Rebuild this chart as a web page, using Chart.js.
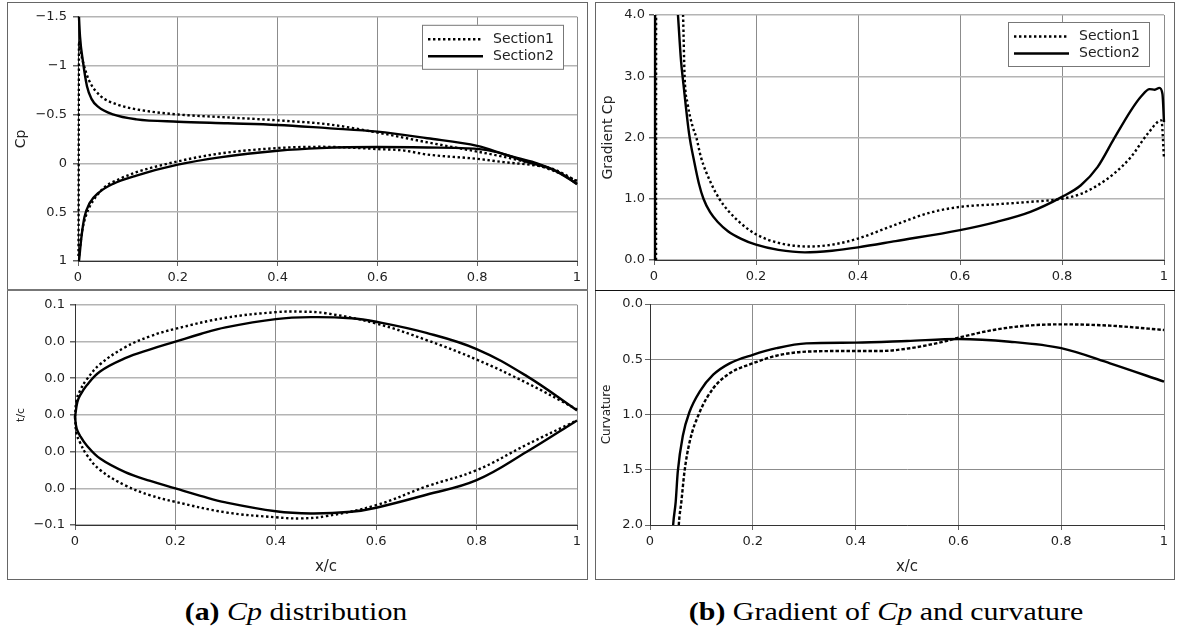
<!DOCTYPE html>
<html>
<head>
<meta charset="utf-8">
<script src="https://cdn.jsdelivr.net/npm/chart.js@4.4.0/dist/chart.umd.min.js"></script>
<style>
  body { margin: 0; width: 1177px; height: 630px; background: #fff; position: relative; overflow: hidden; }
  .frame { position: absolute; box-sizing: border-box; border: 1px solid #666; }
  .divider { position: absolute; height: 0; }
  canvas { position: absolute; }
  .caption {
    position: absolute; font-family: "Liberation Serif", serif; font-size: 26px;
    line-height: 1; white-space: nowrap; transform: translateX(-50%) scaleX(1.15); color: #000;
  }
</style>
</head>
<body>
<div class="frame" style="left:7px;top:2px;width:581px;height:578px"></div>
<div class="divider" style="left:7px;top:289px;width:581px;border-top:2px solid #777"></div>
<div class="frame" style="left:595px;top:2px;width:580px;height:578px"></div>
<div class="divider" style="left:595px;top:290px;width:580px;border-top:1px solid #111"></div>

<canvas id="cpChart" width="578" height="286" style="left:8px;top:3px"></canvas>
<canvas id="tcChart" width="578" height="285" style="left:8px;top:292px"></canvas>
<canvas id="gradChart" width="577" height="286" style="left:596px;top:3px"></canvas>
<canvas id="curvChart" width="577" height="285" style="left:596px;top:292px"></canvas>

<div class="caption" style="left:296px;top:599px"><b>(a)</b> <i>Cp</i> distribution</div>
<div class="caption" style="left:886px;top:599px"><b>(b)</b> Gradient of <i>Cp</i> and curvature</div>

<script>
// ---- tick labels (bottom to top) ----
const xTickLabels = ["0", "0.2", "0.4", "0.6", "0.8", "1"];
const cpTickLabels = ["−1.5", "−1", "−0.5", "0", "0.5", "1"];
const tcTickLabels = ["−0.1", "0.0", "0.0", "0.0", "0.0", "0.0", "0.1"];
const gradTickLabels = ["0.0", "1.0", "2.0", "3.0", "4.0"];
const curvTickLabels = ["0.0", "0.5", "1.0", "1.5", "2.0"];

// ---- Cp distribution [x/c, Cp] ----
const cpSection1Upper = [[0.001, 0.95], [0.002, -1.25], [0.005, -1.15], [0.012, -1.0], [0.022, -0.85],
  [0.045, -0.69], [0.08, -0.6], [0.12, -0.55], [0.2, -0.5], [0.3, -0.47], [0.4, -0.44], [0.5, -0.4],
  [0.6, -0.315], [0.7, -0.215], [0.8, -0.12], [0.85, -0.07], [0.9, -0.01], [0.95, 0.07], [1.0, 0.18]];
const cpSection1Lower = [[0.002, 0.95], [0.008, 0.7], [0.015, 0.55], [0.023, 0.447], [0.05, 0.26],
  [0.084, 0.159], [0.117, 0.091], [0.2, -0.02], [0.284, -0.1], [0.4, -0.156], [0.485, -0.169],
  [0.55, -0.16], [0.6, -0.146], [0.65, -0.133], [0.7, -0.09], [0.8, -0.046], [0.853, -0.012],
  [0.92, 0.024], [0.953, 0.06], [1.0, 0.183]];
const cpSection2Upper = [[0.001, -1.6], [0.004, -1.3], [0.01, -1.04], [0.018, -0.79], [0.027, -0.66],
  [0.04, -0.58], [0.07, -0.5], [0.117, -0.45], [0.2, -0.426], [0.3, -0.41], [0.4, -0.393],
  [0.5, -0.36], [0.6, -0.325], [0.7, -0.257], [0.8, -0.179], [0.85, -0.1], [0.9, -0.015],
  [0.95, 0.06], [0.975, 0.125], [1.0, 0.215]];
const cpSection2Lower = [[0.002, 1.0], [0.007, 0.75], [0.013, 0.55], [0.023, 0.41], [0.043, 0.294],
  [0.07, 0.21], [0.117, 0.125], [0.2, 0.014], [0.284, -0.061], [0.4, -0.129], [0.485, -0.156],
  [0.6, -0.167], [0.7, -0.162], [0.78, -0.153], [0.82, -0.135], [0.85, -0.1], [0.88, -0.055],
  [0.92, 0.0], [0.953, 0.068], [1.0, 0.21]];

// ---- thickness distribution [x/c, t/c] ----
const tcSection1Upper = [[0, -0.002], [0.003, 0.013], [0.01, 0.022], [0.023, 0.032], [0.05, 0.046],
  [0.1, 0.0615], [0.15, 0.0715], [0.2, 0.0782], [0.3, 0.0882], [0.4, 0.0933], [0.45, 0.0938],
  [0.5, 0.0923], [0.6, 0.083], [0.7, 0.068], [0.8, 0.0503], [0.9, 0.029], [1.0, 0.005]];
const tcSection1Lower = [[0, -0.002], [0.003, -0.017], [0.01, -0.025], [0.023, -0.036], [0.05, -0.05],
  [0.1, -0.064], [0.15, -0.073], [0.2, -0.079], [0.3, -0.0885], [0.4, -0.093], [0.45, -0.094],
  [0.5, -0.092], [0.6, -0.082], [0.7, -0.065], [0.8, -0.0502], [0.9, -0.027], [1.0, -0.005]];
const tcSection2Upper = [[0, -0.002], [0.0046, 0.0116], [0.01, 0.0176], [0.023, 0.0267], [0.05, 0.0395],
  [0.1, 0.0515], [0.15, 0.0595], [0.2, 0.0665], [0.25, 0.0735], [0.3, 0.0795], [0.4, 0.087],
  [0.47, 0.0888], [0.55, 0.0878], [0.6, 0.0846], [0.7, 0.0745], [0.8, 0.0598], [0.9, 0.0352], [1.0, 0.0041]];
const tcSection2Lower = [[0, -0.002], [0.0033, -0.0125], [0.01, -0.019], [0.023, -0.0276], [0.05, -0.0397],
  [0.1, -0.052], [0.15, -0.06], [0.2, -0.0668], [0.25, -0.0735], [0.3, -0.0795], [0.4, -0.0875],
  [0.47, -0.0895], [0.55, -0.088], [0.6, -0.0843], [0.7, -0.0725], [0.8, -0.0593], [0.9, -0.0335], [1.0, -0.005]];

// ---- gradient of Cp [x/c, dCp] ----
const gradSection1 = [[0.004, 0], [0.005, 30], [0.03, 10], [0.05, 5.5], [0.057, 4.0], [0.06, 3.0],
  [0.066, 2.55], [0.076, 2.17], [0.083, 2.0], [0.092, 1.68], [0.112, 1.25], [0.128, 1.0], [0.145, 0.81],
  [0.17, 0.6], [0.2, 0.42], [0.244, 0.28], [0.303, 0.22], [0.349, 0.25], [0.4, 0.35], [0.465, 0.55],
  [0.54, 0.77], [0.6, 0.867], [0.672, 0.91], [0.738, 0.95], [0.8, 1.0], [0.837, 1.08], [0.87, 1.22],
  [0.902, 1.41], [0.935, 1.68], [0.968, 2.06], [0.995, 2.28], [1.0, 1.66]];
const gradSection2 = [[0.002, 0], [0.003, 30], [0.02, 9], [0.035, 5.5], [0.047, 4.0], [0.053, 3.25],
  [0.058, 2.85], [0.069, 2.05], [0.079, 1.6], [0.088, 1.25], [0.097, 1.0], [0.11, 0.78], [0.125, 0.62],
  [0.145, 0.47], [0.17, 0.35], [0.2, 0.25], [0.244, 0.165], [0.296, 0.125], [0.349, 0.152],
  [0.4, 0.206], [0.474, 0.309], [0.6, 0.488], [0.672, 0.623], [0.738, 0.786], [0.8, 1.03],
  [0.837, 1.22], [0.87, 1.52], [0.902, 1.98], [0.935, 2.44], [0.955, 2.67], [0.972, 2.79],
  [0.982, 2.78], [0.991, 2.81], [0.997, 2.71], [1.0, 2.25]];

// ---- curvature [x/c, k] ----
const curvSection1 = [[0.05, 2.6], [0.056, 2.0], [0.061, 1.79], [0.067, 1.52], [0.077, 1.25],
  [0.097, 0.975], [0.123, 0.763], [0.155, 0.627], [0.2, 0.537], [0.246, 0.468], [0.304, 0.431],
  [0.4, 0.425], [0.45, 0.425], [0.506, 0.4], [0.571, 0.341], [0.6, 0.305], [0.668, 0.235],
  [0.733, 0.196], [0.8, 0.184], [0.895, 0.196], [1.0, 0.235]];
const curvSection2 = [[0.038, 2.6], [0.045, 2.0], [0.05, 1.79], [0.054, 1.52], [0.064, 1.19],
  [0.077, 0.975], [0.097, 0.79], [0.123, 0.64], [0.155, 0.537], [0.2, 0.46], [0.246, 0.4],
  [0.304, 0.356], [0.4, 0.35], [0.5, 0.335], [0.6, 0.317], [0.7, 0.341], [0.8, 0.4],
  [0.895, 0.537], [1.0, 0.703]];

const tickFont = { family: "DejaVu Sans", size: 13 };
const DOTS = [2.4, 2.6];
const DASHES = [3.5, 2];

function series(label, points, dash, smooth) {
  return {
    label: label,
    data: points.map(([x, y]) => ({ x: x, y: y })),
    borderColor: "#000",
    borderWidth: 2.4,
    borderDash: dash || [],
    pointRadius: 0,
    showLine: true,
    fill: false,
    tension: smooth ? 0.4 : 0,
    cubicInterpolationMode: smooth ? "default" : "monotone",
    clip: { left: 2, top: 0, right: 2, bottom: 0 },
  };
}

function xAxis(height, withTitle) {
  return {
    type: "linear",
    min: 0,
    max: 1,
    ticks: {
      stepSize: 0.2, autoSkip: false, maxRotation: 0, padding: 4,
      color: "#222", font: tickFont,
      callback: (v, i) => xTickLabels[i],
    },
    grid: { color: "#8c8c8c", lineWidth: 1, tickLength: 5, tickColor: "#666" },
    border: { color: "#333", width: 1 },
    title: withTitle
      ? { display: true, text: "x/c", color: "#222", font: { family: "DejaVu Sans", size: 15 }, padding: { top: 0, bottom: 1 } }
      : { display: false },
    afterFit: (s) => { s.height = height; },
  };
}

function yAxis(opts) {
  const reverse = !!opts.reverse;
  return {
    type: "linear",
    min: opts.min,
    max: opts.max,
    reverse: reverse,
    ticks: {
      stepSize: opts.step, count: opts.count, autoSkip: false, padding: opts.pad,
      color: "#222", font: tickFont,
      // reversed scales hand the ticks over from max to min
      callback: (v, i, ticks) => opts.labels[reverse ? ticks.length - 1 - i : i],
    },
    grid: { color: opts.gridColor || "#b4b4b4", lineWidth: opts.gridWidth || 1.5, tickLength: 5, tickColor: "#666" },
    border: { color: "#333", width: 1 },
    title: {
      display: true, text: opts.title, color: "#222",
      font: { family: "DejaVu Sans", size: opts.titleSize },
      padding: { top: opts.titlePad, bottom: 0 },
    },
    afterFit: (s) => { s.width = opts.width; },
  };
}

// framed legend in the top-right corner of the plot area
const boxLegend = {
  id: "boxLegend",
  afterDraw(chart, args, opts) {
    if (!opts || !opts.show) return;
    const { ctx, chartArea } = chart;
    const w = 142, h = 45;
    const left = chartArea.right - opts.right - w;
    const top = chartArea.top + opts.top;
    ctx.save();
    ctx.fillStyle = "#fff";
    ctx.fillRect(left, top, w, h);
    ctx.strokeStyle = "#777";
    ctx.lineWidth = 1;
    ctx.strokeRect(left + 0.5, top + 0.5, w - 1, h - 1);
    const entries = [];
    chart.data.datasets.forEach((ds) => {
      if (!entries.find((e) => e.label === ds.label)) entries.push(ds);
    });
    entries.forEach((ds, i) => {
      const y = top + 14.5 + i * 17;
      ctx.beginPath();
      ctx.setLineDash(ds.borderDash);
      ctx.lineWidth = ds.borderWidth;
      ctx.strokeStyle = ds.borderColor;
      ctx.moveTo(left + 6, y);
      ctx.lineTo(left + 61, y);
      ctx.stroke();
      ctx.setLineDash([]);
      ctx.fillStyle = "#222";
      ctx.font = '14px "DejaVu Sans"';
      ctx.textBaseline = "middle";
      ctx.fillText(ds.label, left + 71, y);
    });
    ctx.restore();
  },
};

function makeChart(id, datasets, scales, padding, legend) {
  return new Chart(document.getElementById(id), {
    type: "scatter",
    data: { datasets: datasets },
    options: {
      responsive: false,
      devicePixelRatio: 1,
      animation: false,
      events: [],
      layout: { padding: padding },
      scales: scales,
      plugins: {
        legend: { display: false },
        tooltip: { enabled: false },
        boxLegend: legend || { show: false },
      },
    },
    plugins: [boxLegend],
  });
}

makeChart("cpChart", [
  series("Section1", cpSection1Upper, DOTS),
  series("Section1", cpSection1Lower, DOTS),
  series("Section2", cpSection2Upper),
  series("Section2", cpSection2Lower),
], {
  x: xAxis(28, false),
  y: yAxis({ min: -1.5, max: 1, step: 0.5, reverse: true, labels: cpTickLabels, pad: 6,
    title: "Cp", titleSize: 14, titlePad: 5, width: 70 }),
}, { left: 0, top: 12, right: 9, bottom: 0 }, { show: true, right: 13, top: 8 });

makeChart("tcChart", [
  series("Section1", tcSection1Upper, DOTS, true),
  series("Section1", tcSection1Lower, DOTS, true),
  series("Section2", tcSection2Upper, null, true),
  series("Section2", tcSection2Lower, null, true),
], {
  x: xAxis(52, true),
  y: yAxis({ min: -0.1, max: 0.1, count: 7, labels: tcTickLabels, pad: 5,
    title: "t/c", titleSize: 11, titlePad: 7, width: 67 }),
}, { left: 0, top: 12, right: 9, bottom: 0 });

makeChart("gradChart", [
  series("Section1", gradSection1, DOTS),
  series("Section2", gradSection2),
], {
  x: xAxis(29, false),
  y: yAxis({ min: 0, max: 4, step: 1, labels: gradTickLabels, pad: 4,
    title: "Gradient Cp", titleSize: 14, titlePad: 4, width: 58 }),
}, { left: 0, top: 12, right: 9, bottom: 0 }, { show: true, right: 14, top: 7 });

makeChart("curvChart", [
  series("Section1", curvSection1, DASHES),
  series("Section2", curvSection2),
], {
  x: xAxis(52, true),
  y: yAxis({ min: 0, max: 2, step: 0.5, reverse: true, labels: curvTickLabels, pad: 2,
    title: "Curvature", titleSize: 12, titlePad: 4, width: 54, gridColor: "#8c8c8c", gridWidth: 1 }),
}, { left: 0, top: 12, right: 9, bottom: 0 });
</script>
</body>
</html>
